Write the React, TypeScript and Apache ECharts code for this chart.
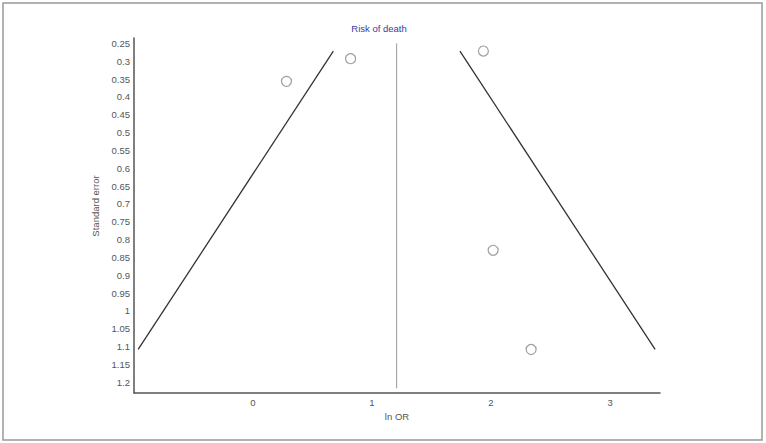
import React, { useEffect, useRef } from "react";
import * as echarts from "echarts";

// Study points: [ln OR, standard error]
const studyPoints: [number, number][] = [
  [0.281, 0.3565],
  [0.82, 0.293],
  [1.936, 0.2716],
  [2.018, 0.83],
  [2.337, 1.108],
];
// Pseudo confidence funnel lines
const leftFunnel: [number, number][] = [
  [-0.965, 1.108],
  [0.675, 0.2716],
];
const rightFunnel: [number, number][] = [
  [1.739, 0.2716],
  [3.379, 1.108],
];
// Pooled estimate line
const pooledLine: [number, number][] = [
  [1.207, 0.25],
  [1.207, 1.217],
];
const yTickLabels = [
  "0.25", "0.3", "0.35", "0.4", "0.45", "0.5", "0.55", "0.6", "0.65", "0.7",
  "0.75", "0.8", "0.85", "0.9", "0.95", "1", "1.05", "1.1", "1.15", "1.2",
];
const xTickLabels = ["0", "1", "2", "3"];

export default function App() {
  const ref = useRef<HTMLDivElement>(null);
  useEffect(() => {
    document.body.style.margin = "0";
    const chart = echarts.init(ref.current!, undefined, { renderer: "svg" });
    const font = "Liberation Sans, Arial, sans-serif";
    chart.setOption({
      animation: false,
      backgroundColor: "#fff",
      grid: { left: 134, right: 106, top: 38, bottom: 50 },
      xAxis: {
        type: "value",
        min: -1,
        max: 3.42,
        interval: 1,
        name: "ln OR",
        nameLocation: "middle",
        nameGap: 16,
        nameTextStyle: { color: "#555", fontSize: 9.5, fontFamily: font },
        axisLine: { lineStyle: { color: "#555", width: 1.5 } },
        axisTick: { show: false },
        splitLine: { show: false },
        axisLabel: {
          color: "#555",
          fontSize: 9.5,
          fontFamily: font,
          margin: 4,
          formatter: (v: number) => {
            if (Math.abs(v - Math.round(v)) > 1e-6) return "";
            const s = String(Math.round(v));
            return xTickLabels.includes(s) ? s : "";
          },
        },
      },
      yAxis: {
        type: "value",
        inverse: true,
        min: 0.235,
        max: 1.23,
        interval: 0.005,
        axisLine: { onZero: false, lineStyle: { color: "#555", width: 1.5 } },
        axisTick: { show: false },
        splitLine: { show: false },
        axisLabel: {
          color: "#555",
          fontSize: 9.5,
          fontFamily: font,
          margin: 4,
          formatter: (v: number) => {
            const s = String(parseFloat(v.toFixed(3)));
            return yTickLabels.includes(s) ? s : "";
          },
        },
      },
      graphic: [
        {
          type: "rect",
          shape: { x: 3, y: 3, width: 759, height: 437 },
          style: { fill: "none", stroke: "#999", lineWidth: 1.5 },
          silent: true,
        },
        {
          type: "text",
          x: 379,
          y: 28,
          style: {
            text: "Risk of death",
            fill: "#3b3b9c",
            fontSize: 9.5,
            fontFamily: font,
            align: "center",
            verticalAlign: "middle",
          },
        },
        {
          type: "text",
          x: 95,
          y: 206,
          rotation: Math.PI / 2,
          style: {
            text: "Standard error",
            fill: "#555",
            fontSize: 9.5,
            fontFamily: font,
            align: "center",
            verticalAlign: "middle",
          },
        },
      ],
      series: [
        {
          type: "line",
          data: leftFunnel,
          showSymbol: false,
          lineStyle: { color: "#333", width: 1.3 },
        },
        {
          type: "line",
          data: rightFunnel,
          showSymbol: false,
          lineStyle: { color: "#333", width: 1.3 },
        },
        {
          type: "line",
          data: pooledLine,
          showSymbol: false,
          lineStyle: { color: "#999", width: 1 },
        },
        {
          type: "scatter",
          data: studyPoints,
          symbol: "circle",
          symbolSize: 10,
          itemStyle: { color: "#fff", borderColor: "#888", borderWidth: 1.2 },
        },
      ],
    });
    return () => chart.dispose();
  }, []);
  return <div ref={ref} style={{ width: 766, height: 443 }} />;
}
